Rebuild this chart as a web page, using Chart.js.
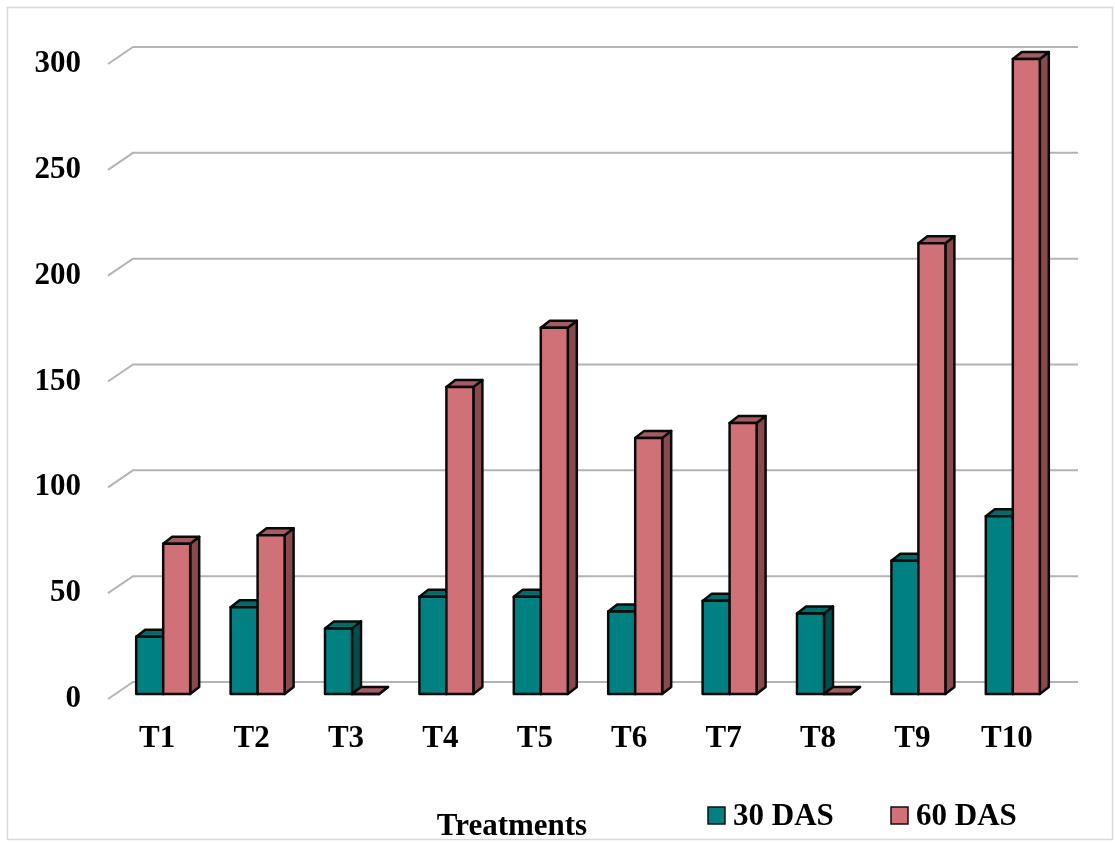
<!DOCTYPE html>
<html>
<head>
<meta charset="utf-8">
<script src="https://cdn.jsdelivr.net/npm/chart.js@4/dist/chart.umd.min.js"></script>
<style>
  html, body { margin: 0; padding: 0; background: #ffffff; }
  #wrap { width: 1115px; height: 843px; position: relative; }
</style>
</head>
<body>
<div id="wrap"><canvas id="c" width="1115" height="843"></canvas></div>
<script>
// Treatments on the x axis
const categories = ['T1', 'T2', 'T3', 'T4', 'T5', 'T6', 'T7', 'T8', 'T9', 'T10'];
// Measured values at 30 and 60 days after sowing
const das30 = [27, 41, 31, 46, 46, 39, 44, 38, 63, 84];
const das60 = [71, 75, 0, 145, 173, 121, 128, 0, 213, 300];
const seriesNames = ['30 DAS', '60 DAS'];
const yTicks = [0, 50, 100, 150, 200, 250, 300];

// Face shading for the box-style bars: front, top, side
const faces = [
  { front: '#008080', top: '#006D6D', side: '#004E4E' },
  { front: '#D07178', top: '#A35D62', side: '#874A4E' }
];

const FONT = "'Liberation Serif', 'Times New Roman', serif";
const DEPTH = { dx: 9, dy: 7 };       // bar depth offset
const WALL = { dx: 17, dy: -12 };     // back wall relative to bar fronts
const FLOOR = { dx: -8, dy: 5 };      // front edge of the floor

const boxPlugin = {
  id: 'boxBars',
  beforeDatasetsDraw(chart) {
    const { ctx, chartArea, scales } = chart;
    const y = scales.y;
    ctx.save();
    ctx.strokeStyle = '#B4B4B4';
    ctx.lineWidth = 2;
    yTicks.forEach(v => {
      const py = y.getPixelForValue(v);
      ctx.beginPath();
      ctx.moveTo(chartArea.left + FLOOR.dx, py + FLOOR.dy);
      ctx.lineTo(chartArea.left + WALL.dx, py + WALL.dy);
      ctx.lineTo(chartArea.right + WALL.dx + 1, py + WALL.dy);
      ctx.stroke();
    });
    ctx.restore();
  },
  afterDatasetsDraw(chart) {
    const { ctx } = chart;
    const metas = chart.data.datasets.map((d, i) => chart.getDatasetMeta(i));
    ctx.save();
    ctx.lineWidth = 2.5;
    ctx.lineJoin = 'round';
    ctx.strokeStyle = '#0A0A0A';
    const n = chart.data.labels.length;
    for (let k = 0; k < n; k++) {
      metas.forEach((meta, di) => {
        const el = meta.data[k];
        const p = el.getProps(['x', 'y', 'base', 'width'], true);
        const x0 = p.x - p.width / 2, x1 = p.x + p.width / 2;
        const top = Math.min(p.y, p.base), base = Math.max(p.y, p.base);
        const f = faces[di];
        const { dx, dy } = DEPTH;
        // side face
        ctx.beginPath();
        ctx.moveTo(x1, top); ctx.lineTo(x1 + dx, top - dy);
        ctx.lineTo(x1 + dx, base - dy); ctx.lineTo(x1, base); ctx.closePath();
        ctx.fillStyle = f.side; ctx.fill(); ctx.stroke();
        // top face
        ctx.beginPath();
        ctx.moveTo(x0, top); ctx.lineTo(x0 + dx, top - dy);
        ctx.lineTo(x1 + dx, top - dy); ctx.lineTo(x1, top); ctx.closePath();
        ctx.fillStyle = f.top; ctx.fill(); ctx.stroke();
        // front face
        ctx.beginPath();
        ctx.rect(x0, top, x1 - x0, base - top);
        ctx.fillStyle = f.front; ctx.fill(); ctx.stroke();
      });
    }
    ctx.restore();
  },
  afterDraw(chart) {
    const { ctx } = chart;
    ctx.save();
    // outer frame
    ctx.strokeStyle = '#D9D9D9';
    ctx.lineWidth = 1.5;
    ctx.strokeRect(7.5, 7.5, 1105, 832);
    // axis title
    ctx.fillStyle = '#000';
    ctx.font = `bold 31px ${FONT}`;
    ctx.textAlign = 'center';
    ctx.textBaseline = 'alphabetic';
    ctx.fillText('Treatments', 512, 835);
    // legend
    const items = [{ x: 708 }, { x: 891 }];
    chart.data.datasets.forEach((ds, i) => {
      const bx = items[i].x;
      ctx.fillStyle = faces[i].front;
      ctx.fillRect(bx, 807, 17, 17);
      ctx.strokeStyle = '#111';
      ctx.lineWidth = 1.5;
      ctx.strokeRect(bx, 807, 17, 17);
      ctx.fillStyle = '#000';
      ctx.textAlign = 'left';
      ctx.fillText(ds.label, bx + 25, 825);
    });
    ctx.restore();
  }
};

new Chart(document.getElementById('c'), {
  type: 'bar',
  data: {
    labels: categories,
    datasets: [
      { label: seriesNames[0], data: das30, backgroundColor: 'rgba(0,0,0,0)', borderWidth: 0 },
      { label: seriesNames[1], data: das60, backgroundColor: 'rgba(0,0,0,0)', borderWidth: 0 }
    ]
  },
  options: {
    responsive: false,
    animation: false,
    events: [],
    layout: { padding: { left: 0, right: 55, top: 59, bottom: 0 } },
    datasets: { bar: { categoryPercentage: 0.572, barPercentage: 1.0 } },
    plugins: { legend: { display: false }, tooltip: { enabled: false } },
    scales: {
      x: {
        grid: { display: false, drawTicks: false },
        border: { display: false },
        ticks: {
          color: '#000',
          font: { family: FONT, size: 31, weight: 'bold' },
          padding: 26,
          labelOffset: -6,
          maxRotation: 0
        },
        afterFit(scale) { scale.height = 149; }
      },
      y: {
        min: 0,
        max: 300,
        grid: { display: false, drawTicks: false },
        border: { display: false },
        ticks: {
          stepSize: 50,
          color: '#000',
          font: { family: FONT, size: 31, weight: 'bold' },
          padding: 35,
          labelOffset: 5
        },
        afterFit(scale) { scale.width = 116; }
      }
    }
  },
  plugins: [boxPlugin]
});
</script>
</body>
</html>
